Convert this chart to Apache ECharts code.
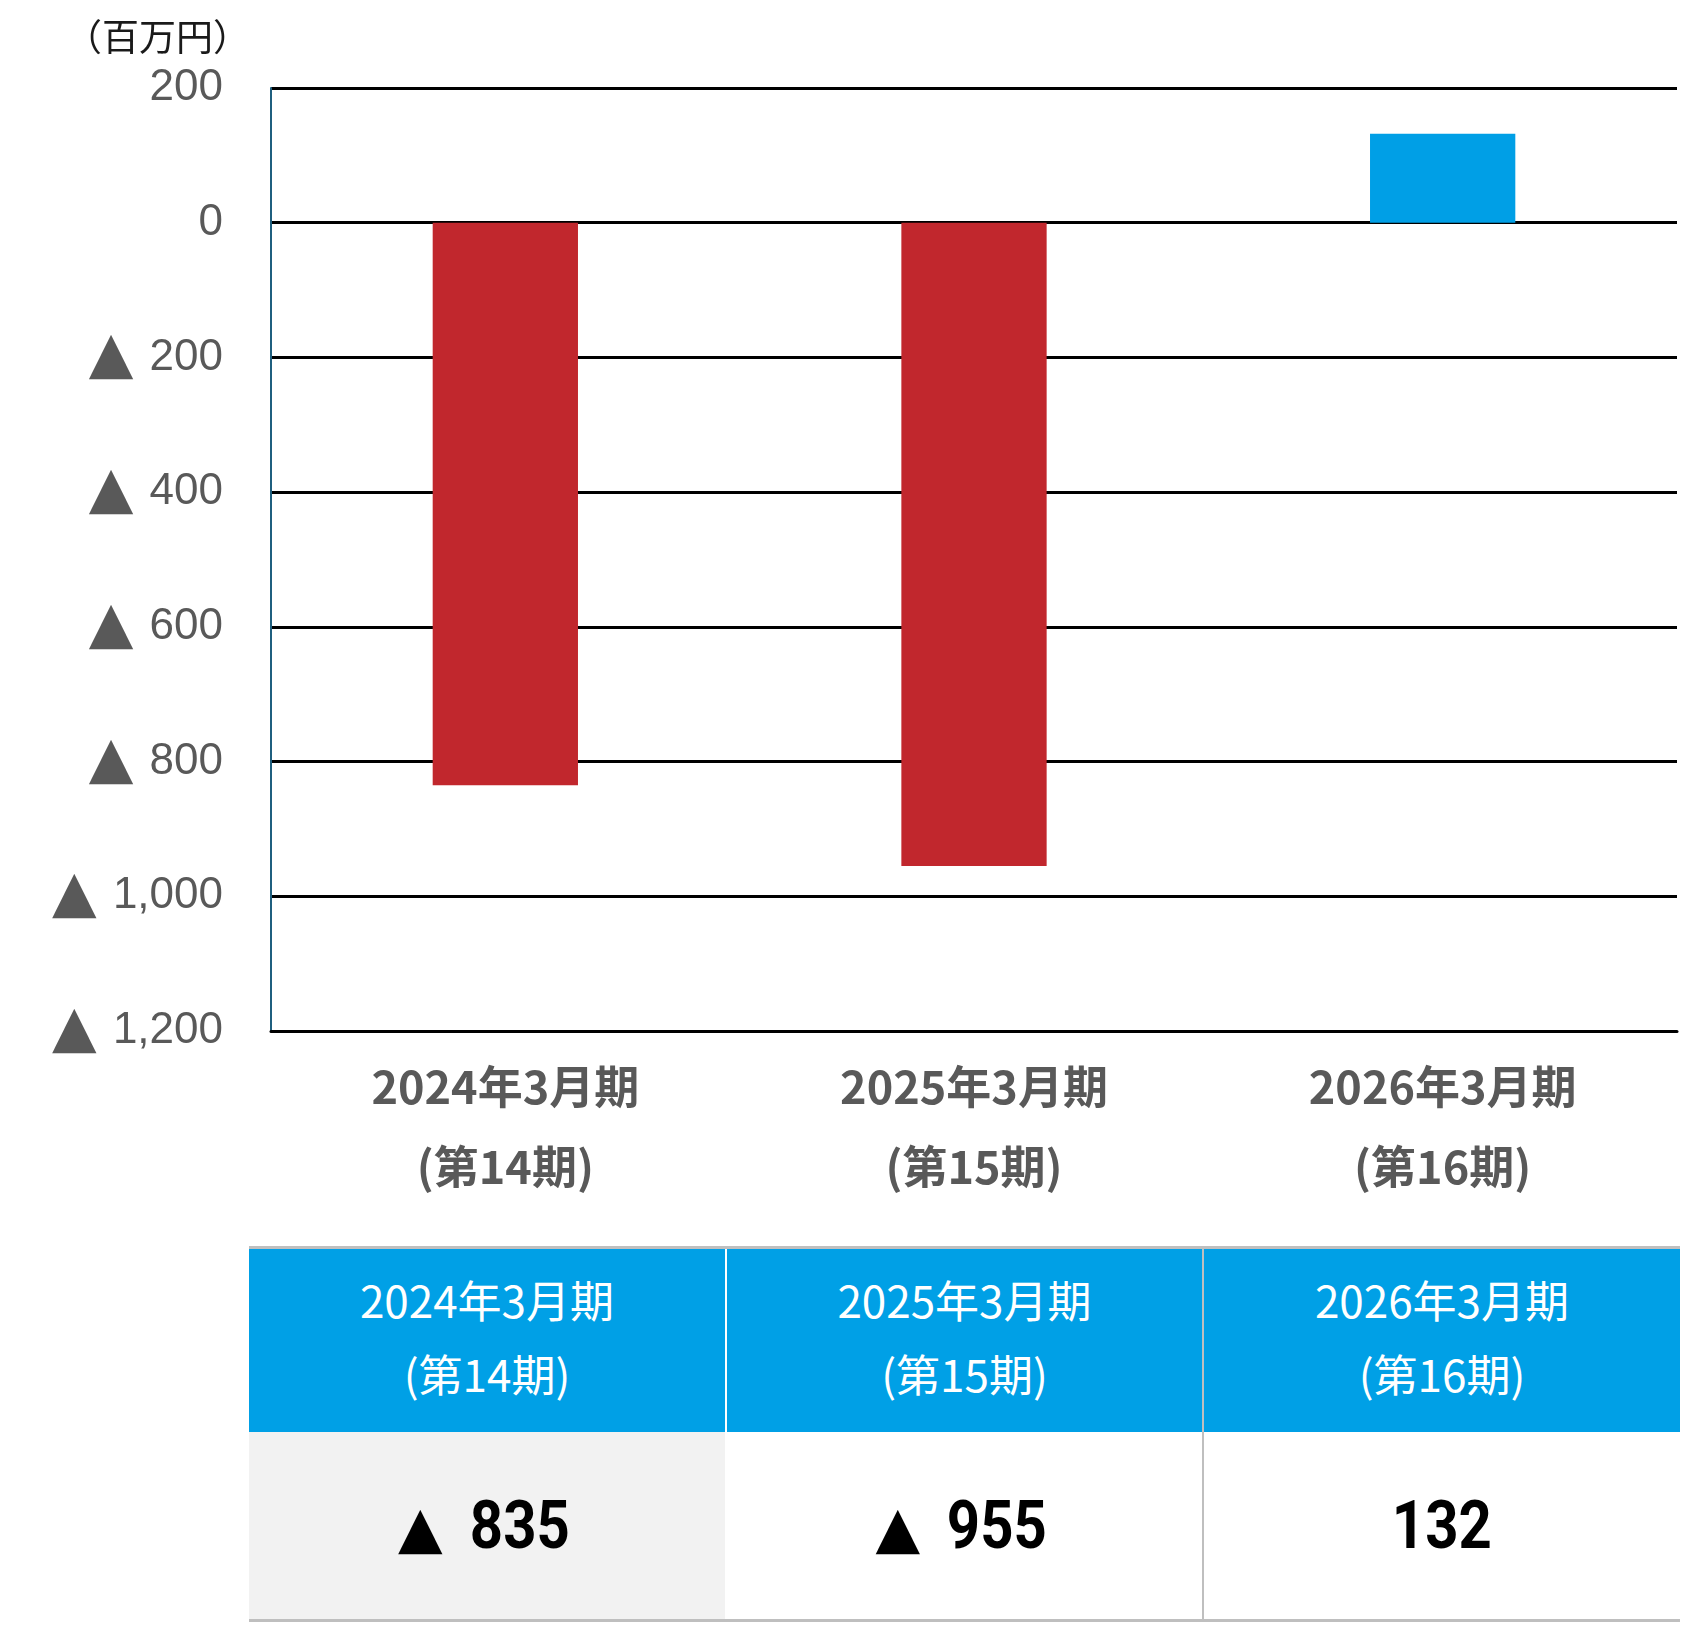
<!DOCTYPE html>
<html lang="ja">
<head>
  <meta charset="UTF-8">
  <title>営業利益</title>
  <script src="https://cdn.jsdelivr.net/npm/echarts@6/dist/echarts.min.js"></script>
  <style>
    html, body {
      margin: 0;
      padding: 0;
      background: #fff;
    }

    #main {
      position: absolute;
      left: 0;
      top: 0;
      width: 1682px;
      height: 1240px;
    }

    .valTable {
      position: absolute;
      left: 249px;
      top: 1246px;
      width: 1431px;
      border-collapse: collapse;
      table-layout: fixed;
      border-top: 3px solid #bfbfbf;
      border-bottom: 3px solid #bfbfbf;
    }

    .valTable th {
      height: 184px;
      padding: 0 0 8px 0;
      box-sizing: border-box;
      background: #00a0e6;
      color: #fff;
      font-family: "Noto Sans CJK JP", sans-serif;
      font-weight: 400;
      font-size: 44px;
      line-height: 74px;
      text-align: center;
    }

    .valTable td {
      height: 187px;
      padding: 0;
      font-family: Roboto, "Liberation Sans", sans-serif;
      font-weight: 700;
      font-size: 66px;
      color: #000;
      text-align: center;
    }

    .valTable .tri {
      font-family: "DejaVu Sans", sans-serif;
      font-size: 58px;
      margin-right: 20px;
      vertical-align: 1px;
    }

    .valTable .num {
      display: inline-block;
      transform: scaleX(0.88);
    }

    .valTable th + th {
      border-left: 2px solid #fff;
    }

    .valTable td + td {
      border-left: 2px solid #fff;
    }

    .valTable th:nth-child(3), .valTable td:nth-child(3) {
      border-left: 2px solid #bfbfbf;
    }

    .valTable td:first-child {
      background: #f2f2f2;
    }
  </style>
</head>
<body>
<div id="main"></div>
<table class="valTable" id="valTable">
  <tr id="headRow"></tr>
  <tr id="valRow"></tr>
</table>
<script>
  // 期・数値（百万円）
  var periods = ['2024年3月期', '2025年3月期', '2026年3月期'];
  var terms = ['(第14期)', '(第15期)', '(第16期)'];
  var values = [-835, -955, 132];
  var barColors = ['#c1272d', '#c1272d', '#009fe6'];

  function fmtCell(v) {
    var s = '<span class="num">' + Math.abs(v).toLocaleString('en-US') + '</span>';
    return v < 0 ? '<span class="tri">▲</span>' + s : s;
  }

  // 表
  var headHtml = '', valHtml = '';
  for (var i = 0; i < periods.length; i++) {
    headHtml += '<th>' + periods[i] + '<br>' + terms[i] + '</th>';
    valHtml += '<td>' + fmtCell(values[i]) + '</td>';
  }
  document.getElementById('headRow').innerHTML = headHtml;
  document.getElementById('valRow').innerHTML = valHtml;

  var myChart = echarts.init(document.getElementById('main'));

  var option = {
    animation: false,
    title: {
      text: '（百万円）',
      left: 60,
      top: 13,
      textStyle: {
        fontFamily: 'Noto Sans CJK JP',
        fontWeight: 400,
        fontSize: 37,
        color: '#1a1a1a'
      }
    },
    grid: {
      left: 271,
      right: 5,
      top: 88,
      bottom: 209
    },
    xAxis: {
      type: 'category',
      data: periods.map(function (p, i) { return p + '\n' + terms[i]; }),
      axisLine: {onZero: false, lineStyle: {color: '#000', width: 3}},
      axisTick: {show: false},
      axisLabel: {
        margin: 16,
        fontFamily: 'Noto Sans CJK JP',
        fontWeight: 700,
        fontSize: 45,
        lineHeight: 80,
        color: '#595959'
      }
    },
    yAxis: {
      type: 'value',
      min: -1200,
      max: 200,
      interval: 200,
      axisLine: {show: true, lineStyle: {color: '#1f5f7f', width: 2}},
      axisTick: {show: false},
      splitLine: {lineStyle: {color: '#000', width: 3}},
      axisLabel: {
        margin: 48,
        fontFamily: 'Liberation Sans',
        fontSize: 44,
        color: '#595959',
        formatter: function (v) {
          var s = Math.abs(v).toLocaleString('en-US');
          return v < 0 ? '{tri|▲} ' + s : s;
        },
        rich: {
          tri: {
            fontSize: 58,
            color: '#595959',
            fontFamily: 'DejaVu Sans',
            padding: [0, 4, 0, 0]
          }
        }
      }
    },
    series: [{
      type: 'bar',
      barWidth: '31%',
      data: values.map(function (v, i) {
        return {value: v, itemStyle: {color: barColors[i]}};
      })
    }]
  };

  myChart.setOption(option);
</script>
</body>
</html>
